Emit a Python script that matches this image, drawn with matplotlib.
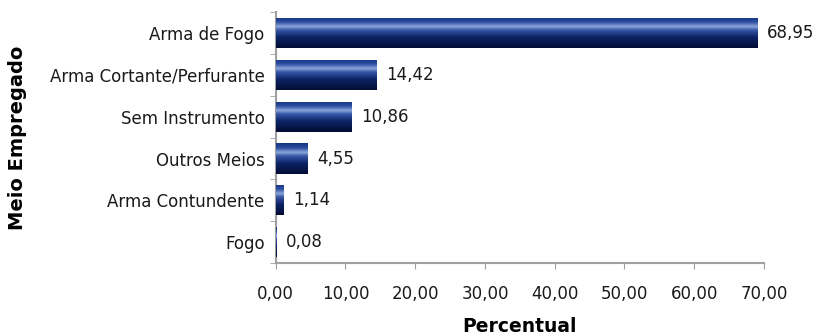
import matplotlib
matplotlib.use("Agg")
import matplotlib.pyplot as plt
import numpy as np
from matplotlib.colors import LinearSegmentedColormap

# dados: meio empregado x percentual
categorias = ["Arma de Fogo", "Arma Cortante/Perfurante", "Sem Instrumento",
              "Outros Meios", "Arma Contundente", "Fogo"]
percentuais = [68.95, 14.42, 10.86, 4.55, 1.14, 0.08]
rotulos = ["68,95", "14,42", "10,86", "4,55", "1,14", "0,08"]
xticks = [0, 10, 20, 30, 40, 50, 60, 70]

plt.rcParams["font.family"] = ["DejaVu Sans"]

fig = plt.figure(figsize=(8.18, 3.36), dpi=100)
ax = fig.add_axes([0.337, 0.217, 0.597, 0.747])

ypos = np.arange(len(categorias))[::-1]
bars = ax.barh(ypos, percentuais, height=0.72, color="#0b2266", zorder=2)

# degradê vertical nas barras (efeito cilindro)
cmap = LinearSegmentedColormap.from_list(
    "barra", [(0.0, "#123482"), (0.15, "#2d4ea0"), (0.3, "#8aa4dc"),
              (0.42, "#3656a6"), (0.65, "#0c2466"), (1.0, "#020c33")])
grad = np.linspace(0, 1, 64).reshape(-1, 1)
for b in bars:
    x0, y0 = b.get_x(), b.get_y()
    w, h = b.get_width(), b.get_height()
    im = ax.imshow(grad, cmap=cmap, aspect="auto", zorder=3,
                   extent=(x0, x0 + w, y0, y0 + h), origin="upper")
    im.set_clip_path(b)

for y, v, txt in zip(ypos, percentuais, rotulos):
    ax.text(v + 1.4, y, txt, va="center", ha="left", fontsize=12, color="#1a1a1a")

ax.set_xlim(0, 70)
ax.set_ylim(-0.5, len(categorias) - 0.5)
ax.set_xticks(xticks)
ax.set_xticklabels([f"{t:.2f}".replace(".", ",") for t in xticks], fontsize=12)
ax.set_yticks(ypos)
ax.set_yticklabels(categorias, fontsize=12)
ax.set_yticks(np.arange(-0.5, len(categorias)), minor=True)

for s in ["top", "right"]:
    ax.spines[s].set_visible(False)
for s in ["left", "bottom"]:
    ax.spines[s].set_color("#a0a0a0")
    ax.spines[s].set_linewidth(1.5)

ax.tick_params(axis="x", colors="#a0a0a0", labelcolor="#1a1a1a", length=4, pad=12)
ax.tick_params(axis="y", which="major", length=0, pad=8, labelcolor="#1a1a1a")
ax.tick_params(axis="y", which="minor", length=4, colors="#a0a0a0")

ax.set_xlabel("Percentual", fontsize=13.5, fontweight="bold", labelpad=10)
ax.set_ylabel("Meio Empregado", fontsize=14, fontweight="bold")
ax.yaxis.set_label_coords(-0.51, 0.5)

fig.savefig("out.png", dpi=100)
